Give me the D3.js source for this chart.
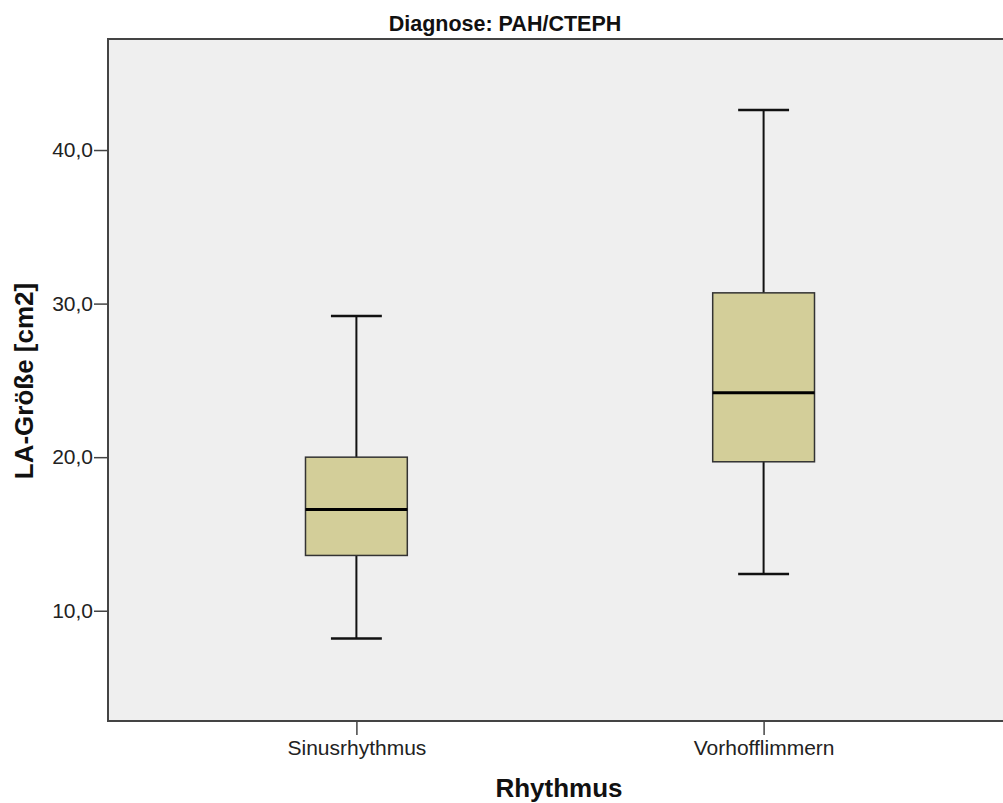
<!DOCTYPE html>
<html>
<head>
<meta charset="utf-8">
<script src="https://cdn.jsdelivr.net/npm/d3@7"></script>
<style>
  body { margin: 0; background: #fff; }
  text { font-family: "Liberation Sans", Arial, sans-serif; }
</style>
</head>
<body>
<div id="chart"></div>
<script>
// values
var groups = ['Sinusrhythmus', 'Vorhofflimmern'];
var whiskerLow = [8.2, 12.4];
var q1 = [13.6, 19.7];
var median = [16.6, 24.2];
var q3 = [20.0, 30.7];
var whiskerHigh = [29.2, 42.6];
var yTicks = [10, 20, 30, 40];

var width = 1003, height = 803;
// plot frame (right edge runs off the canvas)
var plotL = 108, plotT = 39, plotR = 1012, plotB = 721;

var boxes = groups.map(function(g, i) {
    return { g: g, lo: whiskerLow[i], q1: q1[i], med: median[i], q3: q3[i], hi: whiskerHigh[i] };
});

var svg = d3.select('#chart').append('svg')
    .attr('width', width)
    .attr('height', height);

var x = d3.scalePoint()
    .domain(groups)
    .range([plotL, plotR])
    .padding(0.61);

var y = d3.scaleLinear()
    .domain([2.82, 47.23])
    .range([plotB, plotT]);

var boxW = x.step() * 0.25;

// plot background
svg.append('rect')
    .attr('x', plotL)
    .attr('y', plotT)
    .attr('width', plotR - plotL)
    .attr('height', plotB - plotT)
    .attr('fill', '#efefef');

// boxes
var g = svg.selectAll('.box')
    .data(boxes)
    .enter().append('g')
    .attr('class', 'box');

g.append('line')
    .attr('x1', function(d) { return x(d.g); })
    .attr('x2', function(d) { return x(d.g); })
    .attr('y1', function(d) { return y(d.hi); })
    .attr('y2', function(d) { return y(d.lo); })
    .attr('stroke', '#111')
    .attr('stroke-width', 2);

g.selectAll('.cap')
    .data(function(d) { return [{ g: d.g, v: d.hi }, { g: d.g, v: d.lo }]; })
    .enter().append('line')
    .attr('class', 'cap')
    .attr('x1', function(d) { return x(d.g) - boxW / 4; })
    .attr('x2', function(d) { return x(d.g) + boxW / 4; })
    .attr('y1', function(d) { return y(d.v); })
    .attr('y2', function(d) { return y(d.v); })
    .attr('stroke', '#111')
    .attr('stroke-width', 2.5);

g.append('rect')
    .attr('x', function(d) { return x(d.g) - boxW / 2; })
    .attr('y', function(d) { return y(d.q3); })
    .attr('width', boxW)
    .attr('height', function(d) { return y(d.q1) - y(d.q3); })
    .attr('fill', '#d3ce99')
    .attr('stroke', '#333')
    .attr('stroke-width', 1.5);

g.append('line')
    .attr('x1', function(d) { return x(d.g) - boxW / 2; })
    .attr('x2', function(d) { return x(d.g) + boxW / 2; })
    .attr('y1', function(d) { return y(d.med); })
    .attr('y2', function(d) { return y(d.med); })
    .attr('stroke', '#000')
    .attr('stroke-width', 3);

// frame
svg.append('path')
    .attr('d', 'M' + plotR + ',' + plotT + 'H' + plotL + 'V' + plotB + 'H' + plotR)
    .attr('fill', 'none')
    .attr('stroke', '#444')
    .attr('stroke-width', 2);

// axes
var yAxis = d3.axisLeft(y)
    .tickValues(yTicks)
    .tickSize(14)
    .tickPadding(1)
    .tickFormat(function(d) { return d3.format('.1f')(d).replace('.', ','); });

var ya = svg.append('g')
    .attr('transform', 'translate(' + plotL + ',0)')
    .call(yAxis);
ya.select('.domain').remove();
ya.selectAll('line').attr('stroke', '#444').attr('stroke-width', 1.5);
ya.selectAll('text').attr('fill', '#222').style('font-size', '21px');

var xAxis = d3.axisBottom(x)
    .tickSize(14)
    .tickPadding(5);

var xa = svg.append('g')
    .attr('transform', 'translate(0,' + plotB + ')')
    .call(xAxis);
xa.select('.domain').remove();
xa.selectAll('line').attr('stroke', '#444').attr('stroke-width', 1.5);
xa.selectAll('text').attr('fill', '#222').style('font-size', '21px');

// titles
svg.append('text')
    .attr('x', 505)
    .attr('y', 31)
    .attr('text-anchor', 'middle')
    .style('font-size', '21.5px')
    .style('font-weight', 'bold')
    .attr('fill', '#111')
    .text('Diagnose: PAH/CTEPH');

svg.append('text')
    .attr('transform', 'translate(33,381) rotate(-90)')
    .attr('text-anchor', 'middle')
    .style('font-size', '26px')
    .style('font-weight', 'bold')
    .attr('fill', '#111')
    .text('LA-Größe [cm2]');

svg.append('text')
    .attr('x', 559)
    .attr('y', 797)
    .attr('text-anchor', 'middle')
    .style('font-size', '26px')
    .style('font-weight', 'bold')
    .attr('fill', '#111')
    .text('Rhythmus');
</script>
</body>
</html>
